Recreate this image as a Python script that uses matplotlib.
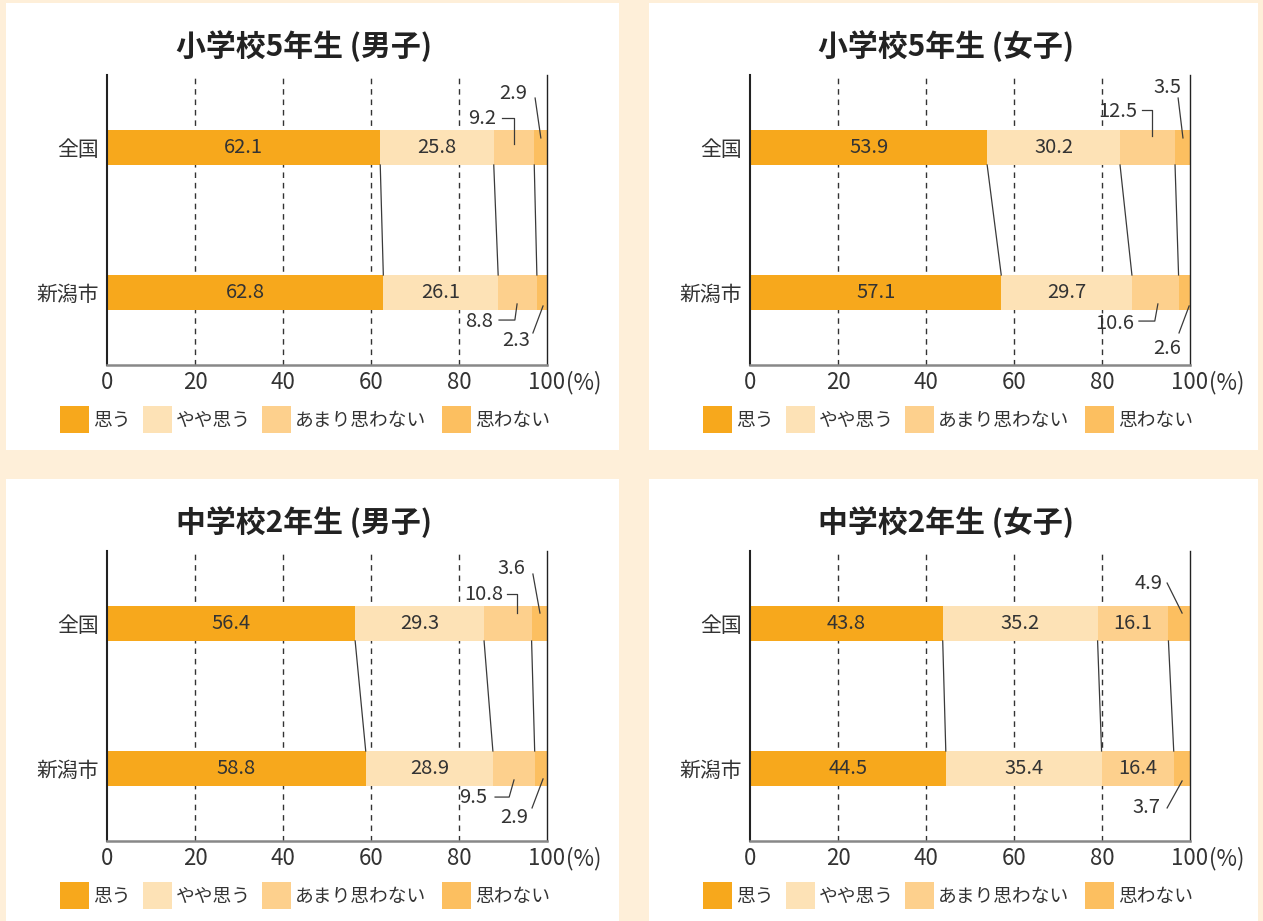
import matplotlib
matplotlib.use('Agg')
import matplotlib.pyplot as plt
from matplotlib.patches import Rectangle

plt.rcParams['font.family'] = ['Noto Sans CJK JP', 'DejaVu Sans']

W, H = 1263, 921

categories = ['思う', 'やや思う', 'あまり思わない', '思わない']
regions = ['全国', '新潟市']
titles = ['小学校5年生 (男子)', '小学校5年生 (女子)',
          '中学校2年生 (男子)', '中学校2年生 (女子)']
x_ticks = [0, 20, 40, 60, 80, 100]

e5_boys_zenkoku = [62.1, 25.8, 9.2, 2.9]
e5_boys_niigata = [62.8, 26.1, 8.8, 2.3]
e5_girls_zenkoku = [53.9, 30.2, 12.5, 3.5]
e5_girls_niigata = [57.1, 29.7, 10.6, 2.6]
j2_boys_zenkoku = [56.4, 29.3, 10.8, 3.6]
j2_boys_niigata = [58.8, 28.9, 9.5, 2.9]
j2_girls_zenkoku = [43.8, 35.2, 16.1, 4.9]
j2_girls_niigata = [44.5, 35.4, 16.4, 3.7]

panel_data = [
    (e5_boys_zenkoku, e5_boys_niigata),
    (e5_girls_zenkoku, e5_girls_niigata),
    (j2_boys_zenkoku, j2_boys_niigata),
    (j2_girls_zenkoku, j2_girls_niigata),
]

colors = ['#f7a81c', '#fde2b6', '#fdd08d', '#fcbf60']
text_col = '#333333'
bg_col = '#feefd9'

# layout of the labels placed outside the bars:
# (row, segment, (x, y, ha), leader line points) in data units
outside = [
    [(0, 2, (88.4, -0.203, 'right'), [(89.8, -0.203), (92.5, -0.203), (92.5, -0.024)]),
     (0, 3, (92.4, -0.369, 'center'), [(97.3, -0.341), (98.6, -0.066)]),
     (1, 2, (87.7, 1.197, 'right'), [(89.1, 1.19), (92.7, 1.19), (93.2, 1.079)]),
     (1, 3, (93.1, 1.334, 'center'), [(96.8, 1.279), (99.1, 1.093)])],
    [(0, 2, (87.95, -0.245, 'right'), [(89.1, -0.259), (91.4, -0.259), (91.4, -0.079)]),
     (0, 3, (94.8, -0.417, 'center'), [(97.3, -0.341), (98.4, -0.066)]),
     (1, 2, (87.3, 1.217, 'right'), [(88.4, 1.197), (92.0, 1.197), (92.7, 1.079)]),
     (1, 3, (94.8, 1.383, 'center'), [(97.5, 1.279), (99.8, 1.093)])],
    [(0, 2, (90.0, -0.203, 'right'), [(90.9, -0.203), (93.2, -0.203), (93.2, -0.072)]),
     (0, 3, (91.9, -0.376, 'center'), [(96.8, -0.341), (98.4, -0.072)]),
     (1, 2, (86.4, 1.203, 'right'), [(88.2, 1.197), (91.4, 1.197), (92.5, 1.079)]),
     (1, 3, (92.5, 1.341, 'center'), [(96.6, 1.272), (99.1, 1.072)])],
    [(0, 3, (90.7, -0.279, 'center'), [(94.8, -0.279), (98.2, -0.072)]),
     (1, 3, (90.0, 1.272, 'center'), [(94.8, 1.272), (98.2, 1.086)])],
]

# panel pixel offsets (x, y)
offsets = [(0, 0), (643, 0), (0, 476), (643, 476)]
white_boxes = [(6, 3, 619, 450), (649, 3, 1258, 450),
               (6, 479, 619, 921), (649, 479, 1258, 921)]

fig = plt.figure(figsize=(W / 100, H / 100), dpi=100, facecolor=bg_col)


def fx(px):
    return px / W


def fy(py):
    return 1 - py / H


for (x0, y0, x1, y1) in white_boxes:
    fig.add_artist(Rectangle((fx(x0), fy(y1)), (x1 - x0) / W, (y1 - y0) / H,
                             transform=fig.transFigure, facecolor='white',
                             edgecolor='none', zorder=0))

bar_h = 35 / 145

for i, (nat, nii) in enumerate(panel_data):
    ox, oy = offsets[i]
    ax = fig.add_axes([fx(107 + ox), fy(365 + oy), 440 / W, 290 / H])
    ax.set_facecolor('none')
    ax.set_xlim(0, 100)
    ax.set_ylim(1.5, -0.5)

    for g in x_ticks[1:-1]:
        ax.axvline(g, color=text_col, lw=1, ls=(0, (4, 3.5)), zorder=0)

    rows = [nat, nii]
    lefts = [[sum(r[:k]) for k in range(len(r))] for r in rows]
    for k in range(len(categories)):
        ax.barh([0, 1], [rows[0][k], rows[1][k]], left=[lefts[0][k], lefts[1][k]],
                height=bar_h, color=colors[k], zorder=2)

    # connectors between the two bars
    for k in range(1, len(categories)):
        ax.plot([lefts[0][k], lefts[1][k]], [bar_h / 2, 1 - bar_h / 2],
                color='#3a3a3a', lw=0.9, zorder=3)

    outs = {(r, s) for r, s, _, _ in outside[i]}
    for r in range(2):
        for k in range(len(categories)):
            if (r, k) in outs:
                continue
            ax.text(lefts[r][k] + rows[r][k] / 2, r, f'{rows[r][k]:.1f}',
                    ha='center', va='center', fontsize=14.5, color=text_col, zorder=4)
    for r, s, (tx, ty, ha), pts in outside[i]:
        ax.text(tx, ty, f'{rows[r][s]:.1f}', ha=ha, va='center',
                fontsize=14.5, color=text_col, zorder=4)
        ax.plot([p[0] for p in pts], [p[1] for p in pts], color='#3a3a3a',
                lw=0.9, zorder=4, clip_on=False)

    ax.set_yticks([0, 1])
    ax.set_yticklabels(regions, fontsize=15, color=text_col)
    ax.set_xticks(x_ticks)
    ax.set_xticklabels([str(t) for t in x_ticks], fontsize=16, color=text_col)
    ax.tick_params(axis='both', length=0)
    ax.tick_params(axis='x', pad=4)
    ax.tick_params(axis='y', pad=6)
    ax.annotate('(%)', xy=(100, 0), xycoords=('data', 'axes fraction'),
                xytext=(19, -18), textcoords='offset pixels', ha='left',
                va='center', fontsize=16, color=text_col)

    ax.spines['top'].set_visible(False)
    ax.spines['left'].set_color('#222222')
    ax.spines['left'].set_linewidth(1.5)
    ax.spines['right'].set_color('#222222')
    ax.spines['right'].set_linewidth(1.0)
    ax.spines['bottom'].set_color('#888888')
    ax.spines['bottom'].set_linewidth(1.8)

    bx0, by0, bx1, by1 = white_boxes[i]
    fig.text(fx((bx0 + bx1) / 2 - 8), fy(46 + oy), titles[i], ha='center', va='center',
             fontsize=21.5, fontweight='bold', color='#222222')

    # legend
    for k, lab in enumerate(categories):
        px = [60, 143, 262, 442][k] + ox
        fig.add_artist(Rectangle((fx(px), fy(433 + oy)), 29 / W, 27 / H,
                                 transform=fig.transFigure, facecolor=colors[k],
                                 edgecolor='none'))
        fig.text(fx(px + 33), fy(420 + oy), lab, ha='left', va='center',
                 fontsize=13.5, color=text_col)

fig.savefig('out.png', dpi=100, facecolor=bg_col)
